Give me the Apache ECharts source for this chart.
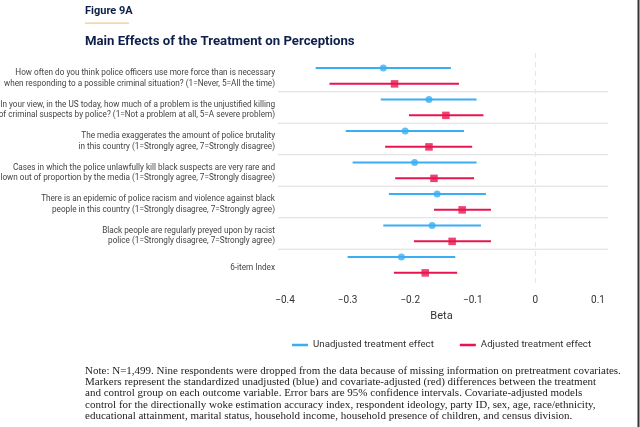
<!DOCTYPE html>
<html>
<head>
<meta charset="utf-8">
<script src="https://cdn.jsdelivr.net/npm/echarts@6/dist/echarts.min.js"></script>
<style>
  html, body { margin: 0; padding: 0; background: #fff; }
  #chart { width: 640px; height: 427px; }
</style>
</head>
<body>
<div id="chart"></div>
<script>
// outcome items, top to bottom
const categories = [
  'How often do you think police officers use more force than is necessary\nwhen responding to a possible criminal situation? (1=Never, 5=All the time)',
  'In your view, in the US today, how much of a problem is the unjustified killing\nof criminal suspects by police? (1=Not a problem at all, 5=A severe problem)',
  'The media exaggerates the amount of police brutality\nin this country (1=Strongly agree, 7=Strongly disagree)',
  'Cases in which the police unlawfully kill black suspects are very rare and\nblown out of proportion by the media (1=Strongly agree, 7=Strongly disagree)',
  'There is an epidemic of police racism and violence against black\npeople in this country (1=Strongly disagree, 7=Strongly agree)',
  'Black people are regularly preyed upon by racist\npolice (1=Strongly disagree, 7=Strongly agree)',
  '6-item Index'
];

// unadjusted (blue)
const unadjEst  = [-0.243, -0.170, -0.208, -0.193, -0.157, -0.165, -0.214];
const unadjLow  = [-0.351, -0.247, -0.303, -0.292, -0.234, -0.243, -0.300];
const unadjHigh = [-0.135, -0.094, -0.114, -0.094, -0.079, -0.087, -0.128];

// covariate adjusted (red)
const adjEst  = [-0.225, -0.143, -0.170, -0.162, -0.117, -0.133, -0.176];
const adjLow  = [-0.329, -0.202, -0.240, -0.224, -0.162, -0.194, -0.226];
const adjHigh = [-0.122, -0.083, -0.101, -0.098, -0.071, -0.071, -0.125];

const xTicks = [-0.4, -0.3, -0.2, -0.1, 0, 0.1];

const BLUE = '#3aaef5';
const RED = '#e8144f';
const OFFSET = 0.25;

const chart = echarts.init(document.getElementById('chart'));

const errorBar = (color) => (params, api) => {
  const a = api.coord([api.value(0), api.value(2)]);
  const b = api.coord([api.value(1), api.value(2)]);
  return {
    type: 'line',
    shape: { x1: a[0], y1: a[1], x2: b[0], y2: b[1] },
    style: { stroke: color, lineWidth: 2 }
  };
};

const blueBars = unadjLow.map((v, i) => [v, unadjHigh[i], i - OFFSET]);
const redBars = adjLow.map((v, i) => [v, adjHigh[i], i + OFFSET]);
const bluePts = unadjEst.map((v, i) => [v, i - OFFSET]);
const redPts = adjEst.map((v, i) => [v, i + OFFSET]);
const seps = categories.slice(1).map((c, i) => [i + 0.5]);
const labelData = categories.map((c, i) => [i, c]);

const minus = (v) => String(v).replace('-', '\u2212');

const option = {
  animation: false,
  grid: { left: 285, right: 42, top: 53, height: 232 },
  xAxis: {
    type: 'value',
    min: xTicks[0],
    max: xTicks[xTicks.length - 1],
    interval: 0.1,
    name: 'Beta',
    nameLocation: 'middle',
    nameGap: 26,
    nameTextStyle: { fontFamily: 'Roboto', fontSize: 11, color: '#333' },
    axisLine: { show: false },
    axisTick: { show: false },
    splitLine: { show: false },
    axisLabel: {
      fontFamily: 'Roboto', fontSize: 10, color: '#333', margin: 10,
      formatter: (v) => minus(Math.round(v * 10) / 10)
    }
  },
  yAxis: {
    type: 'value',
    min: -0.73,
    max: 6.635,
    inverse: true,
    show: false
  },
  legend: {
    top: 335,
    left: 287,
    itemGap: 26,
    itemWidth: 16,
    itemHeight: 2.5,
    textStyle: { fontFamily: 'Roboto', fontSize: 9.7, color: '#333' },
    data: [
      { name: 'Unadjusted treatment effect', icon: 'rect', itemStyle: { color: BLUE } },
      { name: 'Adjusted treatment effect', icon: 'rect', itemStyle: { color: RED } }
    ]
  },
  series: [
    {
      type: 'custom',
      silent: true,
      clip: false,
      data: seps,
      renderItem: (params, api) => {
        const a = api.coord([xTicks[0], api.value(0)]);
        const b = api.coord([xTicks[xTicks.length - 1], api.value(0)]);
        return {
          type: 'line',
          shape: { x1: a[0] - 7, y1: a[1], x2: b[0] + 10, y2: b[1] },
          style: { stroke: '#dcdcdc', lineWidth: 1 }
        };
      }
    },
    {
      type: 'custom',
      silent: true,
      clip: false,
      data: labelData,
      encode: { y: 0 },
      renderItem: (params, api) => {
        const p = api.coord([xTicks[0], api.value(0)]);
        return {
          type: 'text',
          x: p[0] - 10,
          y: p[1] + 2.5,
          style: {
            text: labelData[params.dataIndex][1],
            align: 'right',
            verticalAlign: 'middle',
            fontFamily: 'Roboto',
            fontSize: 8.2,
            lineHeight: 10.2,
            fill: '#444'
          }
        };
      }
    },
    {
      name: 'Unadjusted treatment effect',
      type: 'custom',
      data: blueBars,
      encode: { x: [0, 1], y: 2 },
      renderItem: errorBar(BLUE),
      itemStyle: { color: BLUE },
      markLine: {
        silent: true,
        symbol: 'none',
        label: { show: false },
        lineStyle: { color: '#e6e6e6', type: [5, 4], width: 1.2 },
        data: [{ xAxis: 0 }]
      }
    },
    {
      name: 'Adjusted treatment effect',
      type: 'custom',
      data: redBars,
      encode: { x: [0, 1], y: 2 },
      renderItem: errorBar(RED),
      itemStyle: { color: RED }
    },
    {
      name: 'Unadjusted treatment effect',
      type: 'scatter',
      data: bluePts,
      symbol: 'circle',
      symbolSize: 7,
      itemStyle: { color: BLUE }
    },
    {
      name: 'Adjusted treatment effect',
      type: 'scatter',
      data: redPts,
      symbol: 'rect',
      symbolSize: 7.5,
      itemStyle: { color: RED }
    }
  ],
  graphic: [
    {
      type: 'text', left: 85, top: 6,
      style: { text: 'Figure 9A', fontFamily: 'Roboto', fontWeight: 'bold', fontSize: 11, fill: '#0d1f4a' }
    },
    {
      type: 'rect', left: 85, top: 22.5,
      shape: { width: 44, height: 1.2 },
      style: { fill: '#f6c98e' }
    },
    {
      type: 'text', left: 85, top: 35,
      style: { text: 'Main Effects of the Treatment on Perceptions', fontFamily: 'Roboto', fontWeight: 'bold', fontSize: 13.2, fill: '#0d1f4a' }
    },
    {
      type: 'text', left: 85, top: 365,
      style: {
        text: 'Note: N=1,499. Nine respondents were dropped from the data because of missing information on pretreatment covariates.\n' +
          'Markers represent the standardized unadjusted (blue) and covariate-adjusted (red) differences between the treatment\n' +
          'and control group on each outcome variable. Error bars are 95% confidence intervals. Covariate-adjusted models\n' +
          'control for the directionally woke estimation accuracy index, respondent ideology, party ID, sex, age, race/ethnicity,\n' +
          'educational attainment, marital status, household income, household presence of children, and census division.',
        fontFamily: 'Liberation Serif', fontSize: 11, lineHeight: 11.4, fill: '#222'
      }
    },
    {
      type: 'rect', left: 637.5, top: 0,
      shape: { width: 2, height: 427 },
      style: { fill: '#333' }
    }
  ]
};

chart.setOption(option);
</script>
</body>
</html>
